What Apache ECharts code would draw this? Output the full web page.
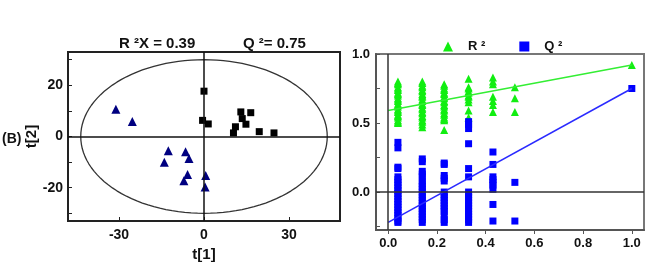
<!DOCTYPE html>
<html>
<head>
<meta charset="utf-8">
<script src="https://cdn.jsdelivr.net/npm/echarts@6/dist/echarts.min.js"></script>
<style>
  html, body { margin: 0; padding: 0; background: #fff; }
  #chart { width: 650px; height: 267px; }
</style>
</head>
<body>
<div id="chart"></div>
<script>
// score plot (left)
const blackT1 = [0, -0.5, 1.5, 10.4, 11.1, 13, 13.5, 14.8, 16.5, 19.5, 24.7];
const blackT2 = [17.7, 6.3, 4.9, 1.4, 3.8, 9.6, 7, 4.8, 9.3, 1.9, 1.4];
const navyT1 = [-31.1, -25.3, -12.6, -14, -6.5, -5.3, -5.8, -7.1, 0.6, 0.4];
const navyT2 = [10.6, 5.9, -5.6, -10.1, -6.0, -8.6, -14.8, -17.3, -15.2, -19.7];
const ellipseA = 43.5;   // t[1] half axis
const ellipseB = 30;     // t[2] half axis
const scoreXTicks = [-30, 0, 30];
const scoreYTicks = [-20, 0, 20];

// permutation plot (right)
const permX = [0.04, 0.14, 0.23, 0.33, 0.43, 0.52];
const r2c1 = [0.80, 0.79, 0.78, 0.76, 0.75, 0.74, 0.72, 0.71, 0.70, 0.68, 0.67, 0.66, 0.64, 0.63, 0.62, 0.60, 0.59, 0.58, 0.56, 0.55, 0.54, 0.52, 0.51, 0.50];
const r2c2 = [0.80, 0.79, 0.77, 0.76, 0.74, 0.73, 0.71, 0.70, 0.69, 0.67, 0.66, 0.64, 0.63, 0.61, 0.60, 0.58, 0.57, 0.55, 0.54, 0.52, 0.51, 0.49, 0.47];
const r2c3 = [0.78, 0.77, 0.75, 0.74, 0.72, 0.71, 0.69, 0.68, 0.66, 0.65, 0.63, 0.62, 0.60, 0.59, 0.57, 0.56, 0.54, 0.53, 0.52, 0.45];
const r2c4 = [0.82, 0.76, 0.75, 0.73, 0.72, 0.70, 0.69, 0.67, 0.65, 0.59, 0.54];
const r2c5 = [0.83, 0.80, 0.78, 0.69, 0.66, 0.63, 0.58];
const r2c6 = [0.76, 0.68, 0.58];
const q2c1 = [0.36, 0.32, 0.18, 0.17, 0.11, 0.09, 0.07, 0.05, 0.03, 0.01, -0.01, -0.03, -0.05, -0.07, -0.09, -0.11, -0.13, -0.15, -0.17, -0.19, -0.21, -0.22];
const q2c2 = [0.24, 0.22, 0.15, 0.13, 0.11, 0.08, 0.06, 0.04, 0.02, 0.0, -0.02, -0.04, -0.06, -0.08, -0.10, -0.12, -0.14, -0.16, -0.18, -0.20, -0.22];
const q2c3 = [0.21, 0.20, 0.12, 0.10, 0.08, 0.0, -0.02, -0.04, -0.06, -0.08, -0.10, -0.12, -0.14, -0.17, -0.20, -0.22];
const q2c4 = [0.51, 0.49, 0.46, 0.35, 0.17, 0.11, 0.0, -0.02, -0.04, -0.06, -0.08, -0.10, -0.12, -0.14, -0.16, -0.18, -0.20, -0.22];
const q2c5 = [0.29, 0.20, 0.11, 0.09, 0.07, 0.05, 0.02, -0.09, -0.21];
const q2c6 = [0.07, -0.21];
const origX = 1.0;
const r2Orig = 0.92;
const q2Orig = 0.75;
const lineX = [0, 1];
const r2LineY = [0.59, 0.92];
const q2LineY = [-0.22, 0.75];
const permXTicks = [0, 0.2, 0.4, 0.6, 0.8, 1.0];
const permYTicks = [0, 0.5, 1.0];

const r2Cols = [r2c1, r2c2, r2c3, r2c4, r2c5, r2c6];
const q2Cols = [q2c1, q2c2, q2c3, q2c4, q2c5, q2c6];

function colPoints(cols, orig) {
    let pts = [];
    cols.forEach(function (vals, i) {
        vals.forEach(function (v) { pts.push([permX[i], v]); });
    });
    pts.push([origX, orig]);
    return pts;
}

let ellipse = [];
for (let a = 0; a <= 360; a += 3) {
    let r = a * Math.PI / 180;
    ellipse.push([ellipseA * Math.cos(r), ellipseB * Math.sin(r)]);
}

const font = '"Liberation Sans", Arial, sans-serif';
const txt = {fontFamily: font, fontWeight: 'bold', color: '#111'};

let chart = echarts.init(document.getElementById('chart'));
chart.setOption({
    animation: false,
    backgroundColor: '#fff',
    textStyle: {fontFamily: font},
    grid: [
        {left: 68, top: 52, width: 272, height: 178, show: true, borderColor: '#222', borderWidth: 2},
        {left: 376, top: 54, width: 268, height: 176, show: true, borderColor: '#777', borderWidth: 2}
    ],
    legend: {
        left: 438, top: 35, itemWidth: 10, itemHeight: 10, itemGap: 34,
        data: ['R ²', 'Q ²'],
        textStyle: Object.assign({fontSize: 13, padding: [0, 0, 0, 10]}, txt)
    },
    xAxis: [
        {
            gridIndex: 0, type: 'value', min: -48, max: 48,
            splitLine: {show: false},
            axisLine: {onZero: false, lineStyle: {color: '#222', width: 2}},
            axisTick: {inside: true, length: 4, customValues: scoreXTicks, lineStyle: {color: '#222'}},
            axisLabel: Object.assign({fontSize: 14, margin: 7, customValues: scoreXTicks}, txt),
            name: 't[1]', nameLocation: 'middle', nameGap: 26,
            nameTextStyle: Object.assign({fontSize: 15}, txt)
        },
        {
            gridIndex: 1, type: 'value', min: -0.05, max: 1.05,
            splitLine: {show: false},
            axisLine: {onZero: false, lineStyle: {color: '#555', width: 2}},
            axisTick: {length: 4, customValues: permXTicks, lineStyle: {color: '#555'}},
            axisLabel: Object.assign({fontSize: 13, margin: 7, customValues: permXTicks,
                formatter: function (v) { return v.toFixed(1); }}, txt)
        }
    ],
    yAxis: [
        {
            gridIndex: 0, type: 'value', min: -33, max: 33,
            splitLine: {show: false},
            axisLine: {onZero: false, lineStyle: {color: '#222', width: 2}},
            axisTick: {inside: true, length: 4, customValues: [-30, -20, -10, 0, 10, 20, 30], lineStyle: {color: '#222'}},
            axisLabel: Object.assign({fontSize: 14, margin: 5, customValues: scoreYTicks}, txt),
            name: 't[2]', nameLocation: 'middle', nameGap: 22, nameRotate: 90,
            nameTextStyle: Object.assign({fontSize: 15}, txt)
        },
        {
            gridIndex: 1, type: 'value', min: -0.275, max: 1.0,
            splitLine: {show: false},
            axisLine: {onZero: false, lineStyle: {color: '#555', width: 2}},
            axisTick: {inside: true, length: 4, customValues: [-0.25, 0, 0.25, 0.5, 0.75, 1.0], lineStyle: {color: '#555'}},
            axisLabel: Object.assign({fontSize: 13, margin: 6, customValues: permYTicks,
                formatter: function (v) { return v.toFixed(1); }}, txt)
        }
    ],
    graphic: [
        {type: 'text', left: 2, top: 132, style: {text: '(B)', font: 'bold 14px ' + font, fill: '#111'}},
        {type: 'text', left: 119, top: 36, style: {text: 'R ²X = 0.39', font: 'bold 15px ' + font, fill: '#111'}},
        {type: 'text', left: 243, top: 36, style: {text: 'Q ²= 0.75', font: 'bold 15px ' + font, fill: '#111'}}
    ],
    series: [
        {
            type: 'line', xAxisIndex: 0, yAxisIndex: 0, data: ellipse,
            showSymbol: false, silent: true,
            lineStyle: {color: '#333', width: 1.3},
            markLine: {
                silent: true, symbol: 'none', label: {show: false},
                lineStyle: {color: '#111', width: 1.5, type: 'solid'},
                data: [{xAxis: 0}, {yAxis: 0}]
            }
        },
        {
            type: 'scatter', xAxisIndex: 0, yAxisIndex: 0,
            data: blackT1.map(function (x, i) { return [x, blackT2[i]]; }),
            symbol: 'rect', symbolSize: 7, itemStyle: {color: '#000', opacity: 1}
        },
        {
            type: 'scatter', xAxisIndex: 0, yAxisIndex: 0,
            data: navyT1.map(function (x, i) { return [x, navyT2[i]]; }),
            symbol: 'triangle', symbolSize: 9, itemStyle: {color: '#000080', opacity: 1}
        },
        {
            type: 'line', xAxisIndex: 1, yAxisIndex: 1, showSymbol: false, silent: true,
            data: lineX.map(function (x, i) { return [x, r2LineY[i]]; }),
            lineStyle: {color: '#33ee33', width: 1.5},
            markLine: {
                silent: true, symbol: 'none', label: {show: false},
                lineStyle: {color: '#333', width: 1.5, type: 'solid'},
                data: [{xAxis: 0}, {yAxis: 0}]
            }
        },
        {
            type: 'line', xAxisIndex: 1, yAxisIndex: 1, showSymbol: false, silent: true,
            data: lineX.map(function (x, i) { return [x, q2LineY[i]]; }),
            lineStyle: {color: '#2a2aff', width: 1.5}
        },
        {
            name: 'R ²', type: 'scatter', xAxisIndex: 1, yAxisIndex: 1,
            data: colPoints(r2Cols, r2Orig),
            symbol: 'triangle', symbolSize: 8, itemStyle: {color: '#11ee11', opacity: 1}
        },
        {
            name: 'Q ²', type: 'scatter', xAxisIndex: 1, yAxisIndex: 1,
            data: colPoints(q2Cols, q2Orig),
            symbol: 'rect', symbolSize: 7, itemStyle: {color: '#0000ff', opacity: 1}
        }
    ]
});
</script>
</body>
</html>
